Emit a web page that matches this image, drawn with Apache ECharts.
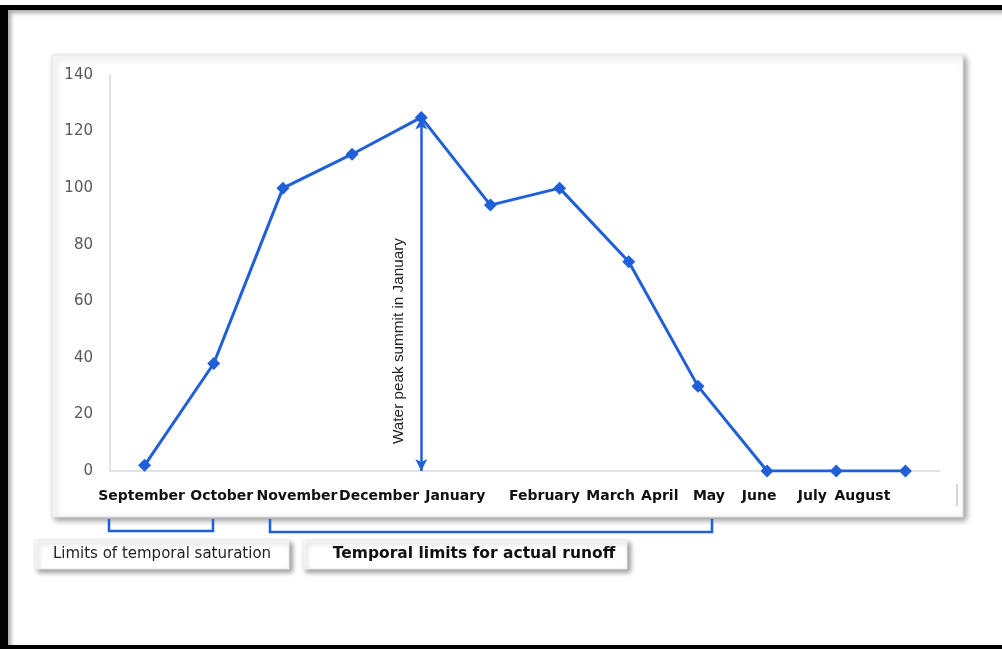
<!DOCTYPE html>
<html>
<head>
<meta charset="utf-8">
<script src="https://cdn.jsdelivr.net/npm/echarts@6/dist/echarts.min.js"></script>
<style>
  html, body { margin: 0; padding: 0; background: #fff; }
  .frame {
    position: absolute; left: 0; top: 5px; width: 1030px; height: 644px;
    box-sizing: border-box; border-style: solid; border-color: #000;
    border-width: 5px 0 4px 8px;
    box-shadow: inset 3px 3px 4px rgba(0,0,0,0.35);
  }
  #chart { position: absolute; left: 0; top: 0; width: 1002px; height: 649px; }
</style>
</head>
<body>
<div class="frame"></div>
<div id="chart"></div>
<script>
// months of the hydrological year
const months = ["September", "October", "November", "December", "January", "February",
  "March", "April", "May", "June", "July", "August"];
// runoff values
const runoff = [2, 38, 100, 112, 125, 94, 100, 74, 30, 0, 0, 0];
const yTicks = [0, 20, 40, 60, 80, 100, 120, 140];
const peakMonth = "January";
const peakValue = 125;

// horizontal nudge of each month label (the original labels are not centered)
const labelNudge = [-3, 8, 14, 27, 34, 54, 51, 31, 11, -8, -24, -43];

const blue = "#1f5fd8";
const chart = echarts.init(document.getElementById("chart"));

const monthItems = months.map((m, i) => {
  const d = labelNudge[i];
  return {
    value: m,
    textStyle: { padding: d >= 0 ? [0, 0, 0, 2 * d] : [0, -2 * d, 0, 0] },
  };
});

const option = {
  animation: false,
  grid: { left: 110, right: 62, top: 75, bottom: 178 },
  xAxis: {
    type: "category",
    data: monthItems,
    boundaryGap: true,
    axisLine: { lineStyle: { color: "#d9d9d9", width: 1.5 } },
    axisTick: { show: false },
    axisLabel: {
      interval: 0,
      hideOverlap: false,
      margin: 18,
      color: "#111",
      fontFamily: "DejaVu Sans",
      fontWeight: "bold",
      fontSize: 14,
    },
  },
  yAxis: {
    type: "value",
    min: yTicks[0],
    max: yTicks[yTicks.length - 1],
    interval: yTicks[1] - yTicks[0],
    axisLine: { show: true, lineStyle: { color: "#d9d9d9", width: 1.5 } },
    axisTick: { show: false },
    splitLine: { show: false },
    axisLabel: {
      margin: 17,
      color: "#595959",
      fontFamily: "DejaVu Sans",
      fontSize: 15,
    },
  },
  graphic: [
    // plot card
    {
      type: "rect", z: -10,
      shape: { x: 52, y: 55, width: 911, height: 462 },
      style: {
        fill: "#fff", stroke: "#e3e3e3", lineWidth: 1,
        shadowBlur: 6, shadowOffsetX: 3, shadowOffsetY: 3, shadowColor: "rgba(0,0,0,0.4)",
      },
    },
    {
      type: "line",
      shape: { x1: 957, y1: 484, x2: 957, y2: 506 },
      style: { stroke: "#c8c8c8", lineWidth: 1.5 },
    },
    // brackets
    {
      type: "polyline",
      shape: { points: [[109, 519], [109, 531], [213, 531], [213, 519]] },
      style: { stroke: blue, lineWidth: 2.5, fill: null },
    },
    {
      type: "polyline",
      shape: { points: [[270, 519], [270, 532], [712, 532], [712, 519]] },
      style: { stroke: blue, lineWidth: 2.5, fill: null },
    },
    // caption boxes
    {
      type: "rect",
      shape: { x: 35, y: 540, width: 254, height: 29 },
      style: {
        fill: "#fff", stroke: "#ececec",
        shadowBlur: 5, shadowOffsetX: 3, shadowOffsetY: 3, shadowColor: "rgba(0,0,0,0.4)",
      },
    },
    {
      type: "text",
      style: {
        x: 162, y: 554, text: "Limits of temporal saturation",
        align: "center", verticalAlign: "middle",
        font: "15px 'DejaVu Sans'", fill: "#222",
      },
    },
    {
      type: "rect",
      shape: { x: 303, y: 540, width: 324, height: 29 },
      style: {
        fill: "#fff", stroke: "#ececec",
        shadowBlur: 5, shadowOffsetX: 3, shadowOffsetY: 3, shadowColor: "rgba(0,0,0,0.4)",
      },
    },
    {
      type: "text",
      style: {
        x: 474, y: 554, text: "Temporal limits for actual runoff",
        align: "center", verticalAlign: "middle",
        font: "bold 15.5px 'DejaVu Sans'", fill: "#111",
      },
    },
    // peak annotation
    {
      type: "text",
      x: 399, y: 341, rotation: Math.PI / 2,
      style: {
        x: 0, y: 0, text: "Water peak summit in January",
        align: "center", verticalAlign: "middle",
        font: "15.3px 'Liberation Sans'", fill: "#222",
      },
    },
  ],
  series: [
    {
      type: "line",
      data: runoff,
      symbol: "diamond",
      symbolSize: 13,
      lineStyle: { color: blue, width: 3 },
      itemStyle: { color: blue },
      markLine: {
        silent: true,
        symbol: ["arrow", "arrow"],
        symbolSize: [9, 12],
        label: { show: false },
        lineStyle: { color: blue, width: 2.5, type: "solid" },
        data: [[{ coord: [peakMonth, peakValue] }, { coord: [peakMonth, 0] }]],
      },
    },
  ],
};

chart.setOption(option);
</script>
</body>
</html>
